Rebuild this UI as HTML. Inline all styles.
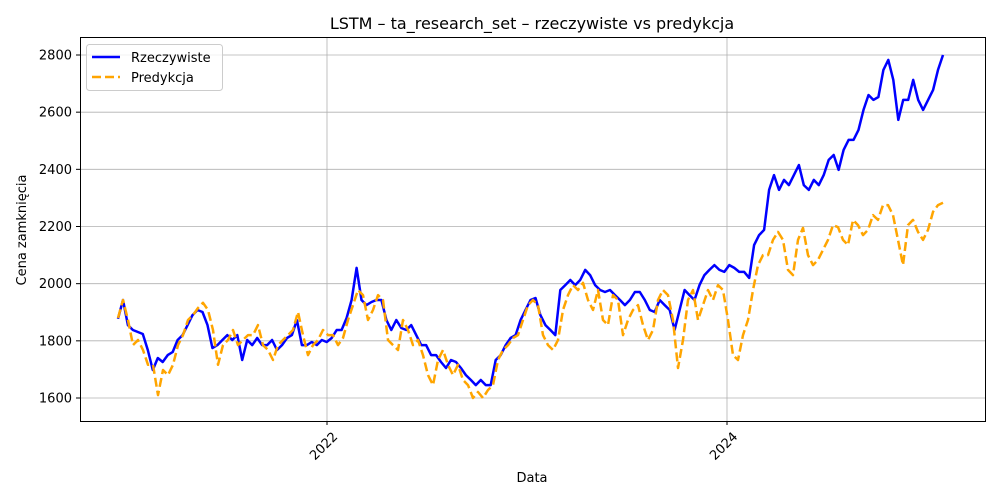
<!DOCTYPE html>
<html><head><meta charset="utf-8"><style>
body{margin:0;background:#fff;font-family:"DejaVu Sans","Liberation Sans",sans-serif}
svg text{font-family:"DejaVu Sans","Liberation Sans",sans-serif}
</style></head><body>
<svg id="chart" width="1000" height="500" xmlns="http://www.w3.org/2000/svg">
<rect width="1000" height="500" fill="#fff"/>
<g id="grid"></g>
<g id="series"></g>
<rect x="80.5" y="37.5" width="905" height="384" fill="none" stroke="#000" stroke-width="1"/>
<g id="ticks"></g>
<text x="532" y="29" text-anchor="middle" font-size="16">LSTM – ta_research_set – rzeczywiste vs predykcja</text>
<text x="532" y="482" text-anchor="middle" font-size="13">Data</text>
<text x="26" y="230" text-anchor="middle" font-size="13" transform="rotate(-90 26 230)">Cena zamknięcia</text>
<g>
<rect x="86.5" y="44.5" width="136" height="46" rx="3" fill="#fff" fill-opacity="0.8" stroke="#ccc"/>
<g>
<line x1="92" y1="57" x2="120" y2="57" stroke="#0000ff" stroke-width="2.5"/>
<text x="131" y="62" font-size="13">Rzeczywiste</text></g>
<g>
<line x1="92" y1="77" x2="120" y2="77" stroke="#ffa500" stroke-width="2.5" stroke-dasharray="9,4"/>
<text x="131" y="82" font-size="13">Predykcja</text></g>
</g>
</svg>
<script>
const startYear = 2020.955;
const endYear = 2025.08;
const yTicks = [1600,1800,2000,2200,2400,2600,2800];
const xTicks = [2022,2024];
const actual = [1877,1943,1855,1838,1831,1824,1768,1698,1740,1726,1750,1761,1803,1820,1855,1890,1908,1901,1855,1775,1785,1803,1820,1803,1820,1733,1803,1785,1810,1785,1785,1803,1768,1785,1810,1820,1873,1785,1785,1796,1785,1803,1796,1810,1838,1838,1880,1943,2055,1943,1925,1936,1943,1943,1873,1838,1873,1845,1838,1855,1820,1785,1785,1750,1750,1726,1705,1733,1726,1705,1680,1663,1645,1663,1645,1645,1733,1750,1785,1810,1820,1873,1908,1943,1950,1890,1855,1838,1820,1978,1995,2013,1995,2013,2048,2030,1995,1978,1971,1978,1960,1943,1925,1943,1971,1971,1943,1908,1901,1943,1925,1908,1838,1908,1978,1960,1943,1995,2030,2048,2065,2048,2041,2065,2055,2041,2041,2020,2135,2170,2188,2328,2380,2328,2363,2345,2380,2415,2345,2328,2363,2345,2380,2433,2450,2398,2468,2503,2503,2538,2608,2660,2643,2653,2748,2783,2713,2573,2643,2643,2713,2643,2608,2643,2678,2748,2800];
const predicted = [1880,1943,1873,1785,1803,1768,1716,1716,1610,1698,1680,1716,1785,1820,1873,1890,1915,1933,1908,1838,1716,1785,1803,1838,1785,1803,1820,1820,1855,1785,1768,1733,1785,1803,1820,1838,1901,1820,1750,1785,1803,1838,1820,1820,1785,1810,1873,1925,1978,1960,1873,1908,1960,1943,1803,1785,1768,1873,1838,1785,1803,1750,1680,1645,1733,1768,1716,1680,1716,1663,1645,1600,1621,1600,1628,1645,1733,1768,1785,1810,1820,1873,1925,1943,1925,1820,1785,1768,1803,1908,1960,1995,1978,2003,1943,1908,1978,1873,1855,1960,1943,1820,1873,1908,1925,1855,1803,1838,1943,1978,1960,1873,1705,1803,1943,1978,1873,1925,1978,1943,1995,1978,1873,1750,1733,1820,1873,1978,2065,2100,2100,2153,2181,2153,2048,2030,2153,2195,2100,2065,2083,2118,2153,2205,2198,2153,2135,2223,2205,2170,2188,2240,2223,2275,2275,2240,2153,2065,2205,2223,2181,2153,2188,2251,2275,2283];

const NS="http://www.w3.org/2000/svg";
const xs = yr => 327 + (yr-2022)*200;
const ys = v => 398 - (v-1600)*(343/1200);
const grid=document.getElementById('grid'), ticks=document.getElementById('ticks'), ser=document.getElementById('series');
for (const t of yTicks){
  const y=ys(t);
  const l=document.createElementNS(NS,'line');
  l.setAttribute('x1',80);l.setAttribute('x2',985);l.setAttribute('y1',y);l.setAttribute('y2',y);
  l.setAttribute('stroke','#b0b0b0');l.setAttribute('stroke-width','0.8');
  
  
  grid.appendChild(l);
  const tk=document.createElementNS(NS,'line');
  tk.setAttribute('x1',76);tk.setAttribute('x2',80);tk.setAttribute('y1',y);tk.setAttribute('y2',y);tk.setAttribute('stroke','#000');
  
  
  ticks.appendChild(tk);
  const tx=document.createElementNS(NS,'text');
  tx.setAttribute('x',72);tx.setAttribute('y',y+4.5);tx.setAttribute('text-anchor','end');tx.setAttribute('font-size','13');
  tx.textContent=t;
  
  
  ticks.appendChild(tx);
}
for (const t of xTicks){
  const x=xs(t);
  const l=document.createElementNS(NS,'line');
  l.setAttribute('x1',x);l.setAttribute('x2',x);l.setAttribute('y1',37);l.setAttribute('y2',421);
  l.setAttribute('stroke','#b0b0b0');l.setAttribute('stroke-width','0.8');
  
  
  grid.appendChild(l);
  const tk=document.createElementNS(NS,'line');
  tk.setAttribute('x1',x);tk.setAttribute('x2',x);tk.setAttribute('y1',421);tk.setAttribute('y2',425);tk.setAttribute('stroke','#000');
  
  
  ticks.appendChild(tk);
  const tx=document.createElementNS(NS,'text');
  tx.setAttribute('x',x+4);tx.setAttribute('y',430);tx.setAttribute('text-anchor','end');tx.setAttribute('font-size','13');
  tx.setAttribute('transform',`rotate(-45 ${x+4} 430)`);
  tx.setAttribute('dy','0.8em');
  tx.textContent=t;
  
  
  ticks.appendChild(tx);
}
function line(vals,color,dash,name){
  const n=vals.length;
  const pts=vals.map((v,i)=>xs(startYear+i*(endYear-startYear)/(n-1)).toFixed(1)+','+ys(v).toFixed(1)).join(' ');
  const p=document.createElementNS(NS,'polyline');
  p.setAttribute('points',pts);p.setAttribute('fill','none');p.setAttribute('stroke',color);
  p.setAttribute('stroke-width','2.5');p.setAttribute('stroke-linejoin','round');
  if(dash)p.setAttribute('stroke-dasharray',dash);
  
  
  ser.appendChild(p);
}
line(actual,'#0000ff',null,'actual-line');
line(predicted,'#ffa500','9,4','predicted-line');
</script>
</body></html>
